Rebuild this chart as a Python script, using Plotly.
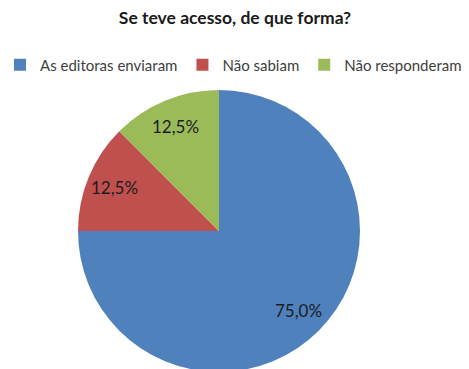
import math
import plotly.graph_objects as go

# Survey answers: how access was obtained
labels = ["As editoras enviaram", "Não sabiam", "Não responderam"]
values = [75.0, 12.5, 12.5]
colors = ["#4F81BD", "#C0504D", "#9BBB59"]
title_text = "Se teve acesso, de que forma?"

W, H = 469, 380
font_family = "Lato, 'Open Sans', sans-serif"

# Pie geometry in pixels (top-left origin)
cx, cy, R = 219, 231, 141

fig = go.Figure(
    go.Pie(
        labels=labels,
        values=values,
        sort=False,
        direction="clockwise",
        rotation=0,
        marker=dict(colors=colors, line=dict(width=0)),
        textinfo="none",
        domain=dict(x=[(cx - R) / W, (cx + R) / W], y=[1 - (cy + R) / H, 1 - (cy - R) / H]),
        showlegend=True,
        hoverinfo="label+percent",
    )
)

# Percentage labels placed at each slice's mid-angle
total = sum(values)
start = 0.0
for v in values:
    frac = v / total
    mid = (start + frac / 2) * 2 * math.pi  # clockwise from 12 o'clock
    start += frac
    r = 0.8 * R
    px = cx + r * math.sin(mid)
    py = cy - r * math.cos(mid)
    fig.add_annotation(
        x=px / W,
        y=1 - py / H,
        xref="paper",
        yref="paper",
        text=f"{frac * 100:.1f}%".replace(".", ","),
        showarrow=False,
        xanchor="center",
        yanchor="middle",
        font=dict(size=17, color="#1C1C24", family=font_family),
    )

fig.update_layout(
    width=W,
    height=H,
    margin=dict(l=0, r=0, t=0, b=0),
    paper_bgcolor="white",
    plot_bgcolor="white",
    title=dict(
        text="<b>" + title_text + "</b>",
        x=235 / W,
        xanchor="center",
        y=1 - 18 / H,
        yanchor="middle",
        font=dict(size=17.5, color="#1A1A1A", family=font_family),
    ),
    legend=dict(
        orientation="h",
        x=0,
        xanchor="left",
        y=1 - 65 / H,
        yanchor="middle",
        font=dict(size=15, color="#404040", family=font_family),
        traceorder="normal",
        itemwidth=30,
    ),
)

fig.write_html("out.html")
